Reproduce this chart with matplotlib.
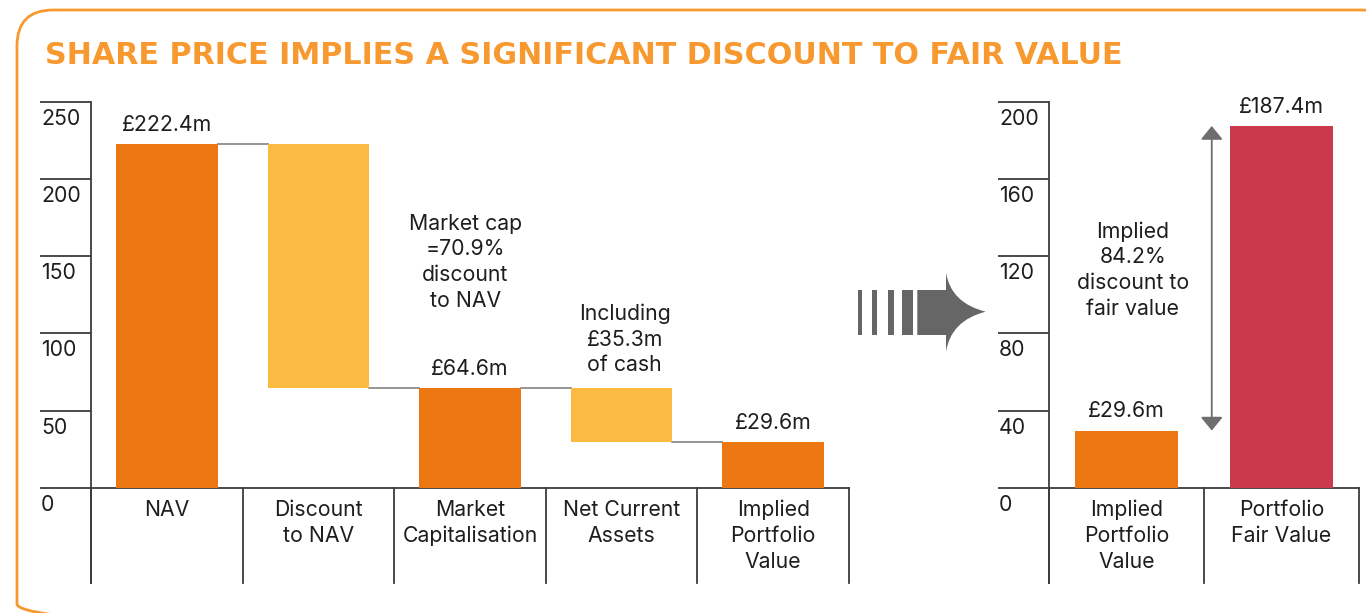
import matplotlib
matplotlib.use("Agg")
import matplotlib.pyplot as plt
from matplotlib.patches import FancyBboxPatch, Rectangle, PathPatch
from matplotlib.path import Path
import matplotlib.transforms as mtransforms

plt.rcParams['font.family'] = ['Inter', 'DejaVu Sans']

# ---------------- data ----------------
left_categories = ["NAV", "Discount\nto NAV", "Market\nCapitalisation", "Net Current\nAssets", "Implied\nPortfolio\nValue"]
left_bar_bottom = [0, 64.6, 0, 29.6, 0]
left_bar_top = [222.4, 222.4, 64.6, 64.6, 29.6]
left_value_labels = ["£222.4m", "", "£64.6m", "", "£29.6m"]
left_ticks = [0, 50, 100, 150, 200, 250]

right_categories = ["Implied\nPortfolio\nValue", "Portfolio\nFair Value"]
right_values = [29.6, 187.4]
right_value_labels = ["£29.6m", "£187.4m"]
right_ticks = [0, 40, 80, 120, 160, 200]

title = "SHARE PRICE IMPLIES A SIGNIFICANT DISCOUNT TO FAIR VALUE"
note_market_cap = "Market cap\n=70.9%\ndiscount\nto NAV"
note_cash = "Including\n£35.3m\nof cash"
note_fair = "Implied\n84.2%\ndiscount to\nfair value"

# ---------------- style ----------------
ORANGE = "#EC7713"
YELLOW = "#FBBA42"
RED = "#C83A4C"
FRAME = "#F7992F"
AXC = "#3C3C3C"
CONN = "#8C8C8C"
TXT = "#1E1E1E"
left_colors = [ORANGE, YELLOW, ORANGE, YELLOW, ORANGE]
right_colors = [ORANGE, RED]
FS = 15.3
LS = 1.36

W, H = 1366, 613
fig = plt.figure(figsize=(W / 100, H / 100), dpi=100)
fig.patch.set_facecolor("white")

# decoration layer in pixel coordinates
deco = fig.add_axes([0, 0, 1, 1], zorder=0)
deco.set_xlim(0, W)
deco.set_ylim(H, 0)
deco.axis("off")

frame = FancyBboxPatch((17, 10), 1380, 630, boxstyle="round,pad=0,rounding_size=36",
                       fill=False, ec=FRAME, lw=2.0, clip_on=False)
deco.add_patch(frame)
deco.text(45, 55, title, color=FRAME, fontsize=21.7, fontweight="bold",
          family=["DejaVu Sans"], ha="left", va="center")

# big grey arrow
GREY = "#666666"
for x0, x1 in [(858.3, 862.3), (871.7, 877.3), (887.7, 894.0), (901.7, 913.3)]:
    deco.add_patch(Rectangle((x0, 290), x1 - x0, 45, fc=GREY, ec="none"))
verts = [(917.3, 290), (946, 290), (946, 272.7), (951, 303), (985.7, 311.7),
         (951, 320.5), (946, 351.7), (946, 335), (917.3, 335), (917.3, 290)]
codes = [Path.MOVETO, Path.LINETO, Path.LINETO, Path.CURVE3, Path.CURVE3,
         Path.CURVE3, Path.CURVE3, Path.LINETO, Path.LINETO, Path.CLOSEPOLY]
deco.add_patch(PathPatch(Path(verts, codes), fc=GREY, ec="none"))

BASE_Y = 487.7
TOP_Y = 101.7
SEP_BOTTOM = 583


def make_axes(x_left, x_right):
    return fig.add_axes([x_left / W, (H - BASE_Y) / H, (x_right - x_left) / W, (BASE_Y - TOP_Y) / H], zorder=2)


def decorate(ax, ticks, cats, tick_x0, tick_x1, axis_x):
    ax.set_ylim(0, ticks[-1])
    ax.set_xlim(-0.5, len(cats) - 0.5)
    ax.axis("off")
    ax.patch.set_alpha(0)
    tr = mtransforms.blended_transform_factory(deco.transData, ax.transData)
    for t in ticks:
        ax.plot([tick_x0, tick_x1], [t, t], color=AXC, lw=1.3, transform=tr, clip_on=False,
                solid_capstyle="butt")
        ax.text(tick_x0 + 1, t, str(t), transform=tr + mtransforms.ScaledTranslation(0, -17 / 100, fig.dpi_scale_trans),
                ha="left", va="center", fontsize=FS, color=TXT)
    # y axis line
    ax.plot([axis_x, axis_x], [TOP_Y, SEP_BOTTOM], color=AXC, lw=1.3, transform=deco.transData, clip_on=False)
    # category separators and labels
    trx = mtransforms.blended_transform_factory(ax.transData, deco.transData)
    for i in range(len(cats) + 1):
        ax.plot([i - 0.5, i - 0.5], [BASE_Y, SEP_BOTTOM], color=AXC, lw=1.3, transform=trx, clip_on=False)
    ax.plot([-0.5, len(cats) - 0.5], [BASE_Y, BASE_Y], color=AXC, lw=1.3, transform=trx, clip_on=False)
    for i, c in enumerate(cats):
        ax.text(i, 500, c, transform=trx, ha="center", va="top", fontsize=FS, color=TXT,
                linespacing=LS)


# ---------------- left waterfall ----------------
axL = make_axes(91, 849)
decorate(axL, left_ticks, left_categories, 40, 91, 91)
xs = list(range(len(left_categories)))
heights = [t - b for t, b in zip(left_bar_top, left_bar_bottom)]
axL.bar(xs, heights, bottom=left_bar_bottom, width=0.67, color=left_colors, zorder=3)
# connectors between consecutive bars
for i in range(len(xs) - 1):
    level = left_bar_bottom[i] if left_bar_bottom[i] > 0 else left_bar_top[i]
    axL.plot([i + 0.335, i + 1 - 0.335], [level, level], color=CONN, lw=1.3, zorder=2)
for i, lab in enumerate(left_value_labels):
    if lab:
        axL.annotate(lab, (i, left_bar_top[i]), xytext=(0, 14), textcoords="offset points",
                     ha="center", va="center", fontsize=FS, color=TXT)
axL.text(1.97, 146, note_market_cap, ha="center", va="center", fontsize=FS, color=TXT, linespacing=LS)
axL.text(3.02, 96, note_cash, ha="center", va="center", fontsize=FS, color=TXT, linespacing=LS)

# ---------------- right chart ----------------
axR = make_axes(1049, 1359)
decorate(axR, right_ticks, right_categories, 998, 1049, 1049)
xr = list(range(len(right_categories)))
axR.bar(xr, right_values, width=0.66, color=right_colors, zorder=3)
for i, lab in enumerate(right_value_labels):
    axR.annotate(lab, (i, right_values[i]), xytext=(0, 14), textcoords="offset points",
                 ha="center", va="center", fontsize=FS, color=TXT)
axR.annotate("", xy=(0.55, right_values[1]), xytext=(0.55, right_values[0]),
             arrowprops=dict(arrowstyle="<|-|>,head_length=0.55,head_width=0.45", color="#6E6E6E",
                             lw=1.3, shrinkA=0, shrinkB=0, mutation_scale=15))
axR.text(0.04, 112.8, note_fair, ha="center", va="center", fontsize=FS, color=TXT, linespacing=LS)

fig.savefig("out.png", dpi=100)
